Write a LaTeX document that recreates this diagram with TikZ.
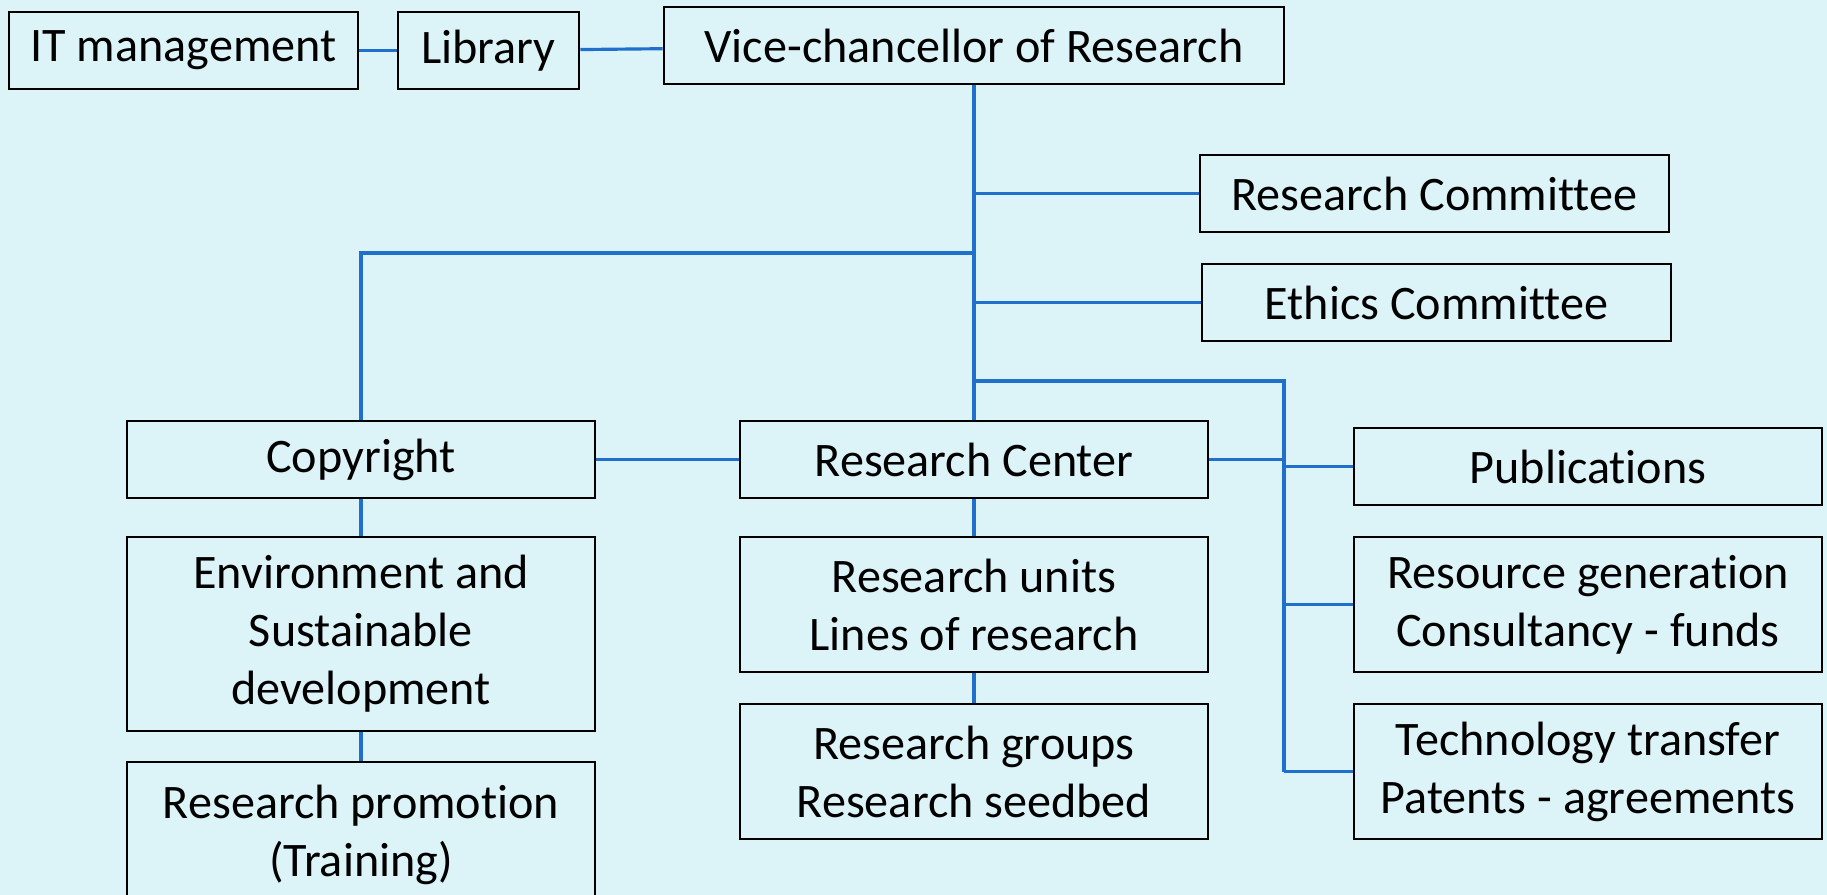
\documentclass[tikz,border=0pt]{standalone}
\usepackage{fontspec}
\setmainfont{Carlito}[Ligatures=NoCommon]
\usetikzlibrary{calc}
\definecolor{bgcyan}{RGB}{220,244,248}
\definecolor{linkblue}{RGB}{31,111,204}
\tikzset{
    box/.style={draw=black, line width=0.8pt, fill=bgcyan, inner sep=0pt, align=center, minimum width=4.68cm, font=\fontsize{13.7}{16.5}\selectfont},
    link/.style={draw=linkblue, line width=0.9pt}
}

\begin{document}
\begin{tikzpicture}
        \fill[bgcyan] (0,0) rectangle (18.27,-8.95);
        \useasboundingbox (0,0) rectangle (18.27,-8.95);
        \clip (0,0) rectangle (18.27,-8.95);

        \node[box, minimum width=3.49cm, minimum height=0.77cm] (itm) at (1.835,-0.505) {IT management};
        \node[box, minimum width=1.81cm, minimum height=0.77cm] (lib) at (4.885,-0.505) {Library};
        \node[box, minimum width=6.2cm, minimum height=0.77cm] (vice) at (9.74,-0.455) {Vice-chancellor of Research};
        \node[box, minimum width=4.69cm, minimum height=0.77cm] (rcom) at (14.345,-1.935) {Research Committee};
        \node[box, minimum width=4.69cm, minimum height=0.77cm] (ethics) at (14.365,-3.025) {Ethics Committee};

        \node[box, minimum height=0.77cm] (copy) at (3.61,-4.595) {Copyright};
        \node[box, minimum height=0.77cm] (rcen) at (9.74,-4.595) {Research Center};
        \node[box, minimum height=0.77cm] (pub) at (15.88,-4.665) {Publications};

        \node[box, minimum height=1.94cm] (env) at (3.61,-6.34) {Environment and\\Sustainable\\development};
        \node[box, minimum height=2.12cm] (promo) at (3.61,-8.68) {Research promotion\\(Training)\\\strut};
        \node[box, minimum height=1.35cm] (units) at (9.74,-6.045) {Research units\\Lines of research};
        \node[box, minimum height=1.35cm] (groups) at (9.74,-7.715) {Research groups\\Research seedbed};
        \node[box, minimum height=1.35cm] (resgen) at (15.88,-6.045) {Resource generation\\Consultancy - funds};
        \node[box, minimum height=1.35cm] (tech) at (15.88,-7.715) {Technology transfer\\Patents - agreements};

        \coordinate (jl) at (3.61,-2.53);
        \coordinate (jr) at (12.84,-3.81);

        \draw[link] (itm) -- (lib);
        \draw[link] (lib) -- (vice);
        \draw[link] (vice) -- (rcen);
        \draw[link] (rcom) -- (rcom -| vice);
        \draw[link] (ethics) -- (ethics -| vice);
        \draw[link] (copy) -- (jl) -- (jl -| vice);
        \draw[link] (jr -| vice) -- (jr) -- (jr |- tech);
        \draw[link] (copy) -- (rcen);
        \draw[link] (rcen) -- (rcen -| jr);
        \draw[link] (pub) -- (pub -| jr);
        \draw[link] (resgen) -- (resgen -| jr);
        \draw[link] (tech) -- (tech -| jr);
        \draw[link] (copy) -- (env);
        \draw[link] (env) -- (promo);
        \draw[link] (rcen) -- (units);
        \draw[link] (units) -- (groups);
    \end{tikzpicture}
\end{document}
